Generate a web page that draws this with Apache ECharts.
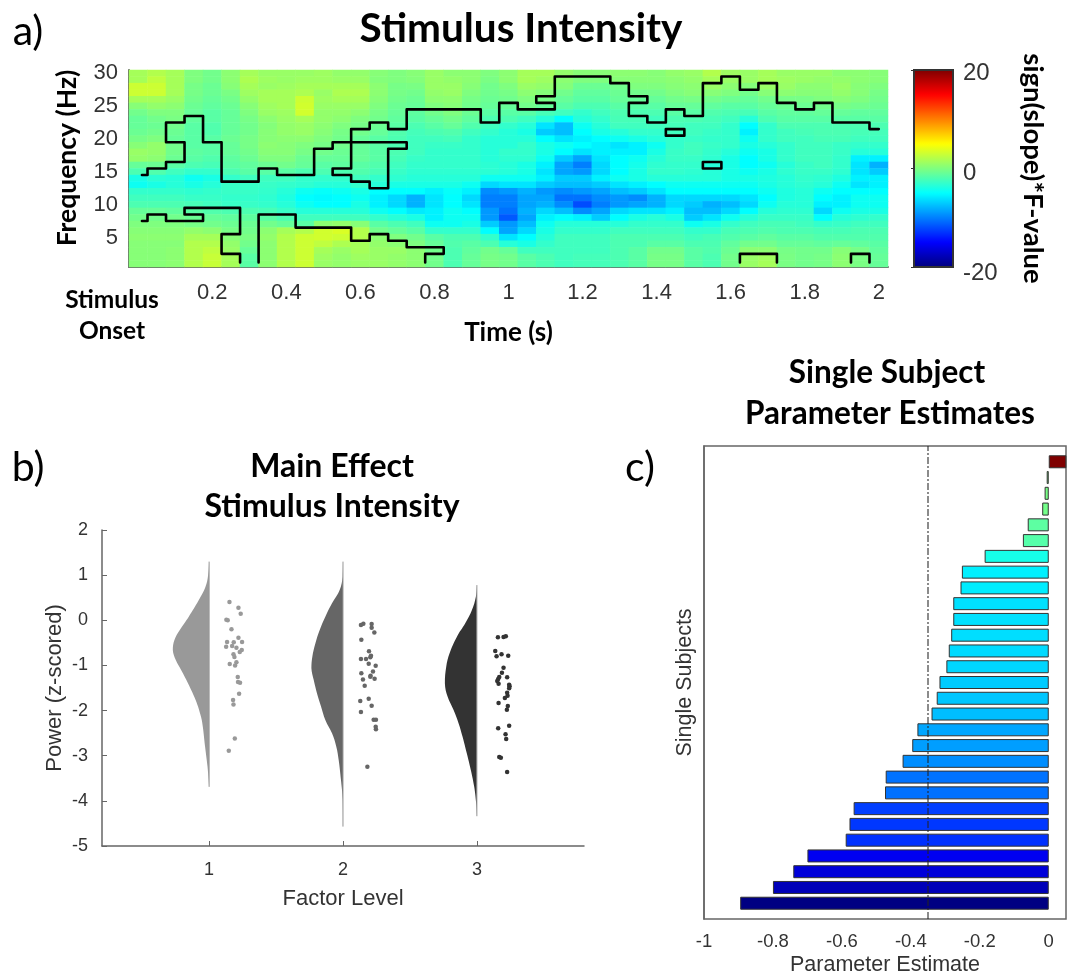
<!DOCTYPE html>
<html lang="en">
<head>
<meta charset="UTF-8">
<title>Stimulus Intensity</title>
<script src="https://cdn.jsdelivr.net/npm/echarts@6/dist/echarts.min.js"></script>
<style>html,body{margin:0;background:#fff}</style>
</head>
<body>
<div id="main" style="width:1070px;height:977px;"></div>
<script>
// panel a: time-frequency map
const timeCats = ['0','0.05','0.1','0.15','0.2','0.25','0.3','0.35','0.4','0.45','0.5','0.55','0.6','0.65','0.7','0.75','0.8','0.85','0.9','0.95','1','1.05','1.1','1.15','1.2','1.25','1.3','1.35','1.4','1.45','1.5','1.55','1.6','1.65','1.7','1.75','1.8','1.85','1.9','1.95','2'];
const freqCats = ['1','2','3','4','5','6','7','8','9','10','11','12','13','14','15','16','17','18','19','20','21','22','23','24','25','26','27','28','29','30'];
// one row per frequency, 30 Hz first
const fValues = [
[1.5,2,1.5,0,-.5,.5,1.5,1,1,1, 1.2,.8,.8,.3,0,.3,1,.5,.5,0, .5,1.5,1.5,.8,.3,.3,.5,.5,.3,.8, 1,2,1.2,1,1.5,1,1,1,.5,.5, .3],
[1.5,2.5,1.5,0,-.5,.5,1.8,1.2,1,1.2, 1.2,1,1,.2,0,.2,1,.8,.5,-.2, .5,1.5,1.2,.5,0,0,.3,.3,.3,.5, .8,1.5,1,1,1.5,1.2,1,.8,.8,.5, .3],
[3,3,1.5,-.3,-.8,.3,1.5,1,1.2,1.5, 1.5,1.5,1.5,.5,-.3,-.2,1,1,.3,-.5, 0,1,.8,.2,-.8,-.8,-.5,0,0,.3, .5,1,.5,.2,1,1,.5,.5,1,.3, 0],
[3,3,1.5,-.3,-.8,-.2,1.2,1.5,1.5,1.8, 1,1.8,1.8,.5,-.3,-.5,.8,1,0,-.6, -.3,.5,.2,-.5,-1.2,-1.2,-.8,-.5,-.5,0, .3,.3,0,-.5,.3,.5,.3,.3,.8,.3, -.3],
[1.5,1.5,1,-.5,-1,-.5,.8,1.5,1.5,3, 1.2,1.5,1.5,.3,-.5,-.8,.5,.6,-.3,-.8, -.6,0,-.3,-1,-1.5,-1.5,-1,-1,-1,-.5, -.3,-.5,-.8,-1,-.5,-.3,-.3,0,.3,0, -.5],
[.3,.8,.5,-.8,-1.2,-.8,.3,1.2,1.5,3.2, 1,1,1,0,-.8,-1,0,.3,-.5,-1, -1,-.5,-1,-1.5,-2,-2,-1.5,-1.5,-1.5,-1, -1,-1.2,-1.5,-1.5,-1,-.8,-.8,-.5,-.3,-.5, -.8],
[-.5,0,0,-1,-1.5,-1,0,1,1.2,3.2, .8,.8,.5,-.3,-1,-1.3,-.5,0,-.8,-1.5, -1.5,-1.5,-2.2,-2.5,-3,-2.5,-2,-2,-2,-1.5, -1.5,-1.8,-2,-2.2,-1.5,-1.2,-1.2,-1,-1,-1.2, -1.2],
[-1,-.5,-.2,-1.2,-1.5,-1,-.3,.5,1,1.5, .8,.5,0,-.5,-1.2,-1.5,-1,-.5,-1.2,-2, -2,-2.5,-3.5,-5,-3.5,-3,-2.2,-2.2,-2.5,-2, -2,-2.2,-2.5,-3.5,-2,-1.5,-1.5,-1.5,-1.5,-1.5, -1.5],
[-1,-.8,-.5,-1.5,-1.8,-1,-.5,.2,.8,1, .5,0,-.3,-.8,-1.5,-2,-1.5,-1,-1.8,-2.5, -3,-3.5,-6,-7.5,-4.5,-3.5,-2.5,-2.5,-2.5,-2.3, -2.5,-2.5,-3,-5,-3,-2,-2,-2,-2,-2, -2],
[-.8,-.5,-.8,-1.5,-1.8,-1,-.5,.3,.8,1, .3,-.3,-.5,-1,-1.8,-2.3,-2,-1.8,-2.5,-3, -3.5,-4,-7,-7.5,-5,-4,-3.5,-3,-3,-2.5, -2.5,-2.8,-3,-5.5,-3,-2.5,-2.2,-2,-2,-2.2, -2.3],
[-.3,0,-1,-1.5,-1.5,-.8,-.3,.3,.5,.5, 0,-.5,-1,-1.5,-2,-2.5,-2.5,-2.3,-3,-3.5, -3.5,-3.5,-5,-6,-5.5,-5,-4.5,-4,-3.5,-3, -2.8,-3,-3,-4.5,-3,-2.5,-2.5,-2.2,-2.2,-2.5, -2.5],
[.3,.8,-.5,-1.5,-1.5,-1,-.3,.5,.3,0, -.3,-.5,-1,-1.5,-2,-2.5,-2.8,-2.8,-3,-3.5, -3.5,-3,-4,-4.5,-5,-5.5,-6,-5.5,-4.5,-3, -2.5,-2.8,-3,-4,-3.5,-3,-2.5,-2.5,-2.8,-3, -3],
[1,.8,-.5,-1.3,-1.5,-1,-.5,.3,.3,-.3, -.5,-.8,-1,-1.5,-2,-2.5,-3,-3,-3,-3.5, -3,-3,-4,-5,-6,-5.5,-5.5,-5.5,-4,-2.8, -2.5,-3,-3.5,-4.5,-4,-3,-2.5,-2.5,-2.8,-3.5, -3.5],
[.8,.5,-.8,-1.5,-1.8,-1.3,-.8,0,0,-.8, -1,-1,-1,-1.5,-2.2,-2.8,-3,-3,-3,-3.5, -3.2,-3.2,-4.5,-7,-8.5,-6,-5,-4.5,-3.5,-2.8, -2.8,-3.2,-4,-5,-4,-3,-2.5,-2.5,-3,-5.5, -5.5],
[-1,-.8,-1.5,-2,-2.2,-1.5,-1.2,-.8,-.5,-1, -1.5,-1.3,-1.5,-1.8,-2.5,-3,-3,-3,-3,-3.3, -3.5,-4,-5.5,-8.5,-10,-6.5,-5,-4.2,-3.2,-3, -3,-3.5,-4,-5,-4.5,-3.5,-2.8,-2.5,-3,-6, -8],
[-2,-1.8,-2.5,-3,-3,-2,-1.5,-1.5,-1.5,-2, -2,-2,-1.8,-2.2,-2.8,-3.2,-3.2,-3.2,-3.2,-3.3, -3.5,-4,-6,-8.5,-9,-6.5,-5,-4,-3,-3, -3.2,-3.5,-4,-4.5,-4,-3.2,-2.8,-2.8,-3.2,-6, -7],
[-4,-3.3,-3.5,-4.5,-4,-3,-2.5,-2.5,-2.5,-3, -3,-3,-2.5,-3,-3.2,-3.5,-3.5,-3.5,-3.5,-4.5, -4.5,-4.5,-5.5,-7,-7,-5.5,-4.5,-4,-3.5,-3.5, -3.5,-3.5,-4,-4,-3.8,-3.5,-3,-3.2,-3.8,-5.5, -5.5],
[-4.5,-4,-3.5,-4,-3.5,-2.8,-2.8,-2.8,-3,-3.2, -3.5,-3.5,-3,-3.5,-4,-4,-4,-4,-4.5,-6.5, -6,-6,-7,-7.5,-7.5,-7,-6,-5.5,-5,-4.5, -4.5,-4.5,-4.5,-4.5,-4,-3.5,-3.2,-3.5,-4.5,-6, -5.5],
[-3,-3,-3,-3.2,-3,-2.8,-2.8,-3,-3.5,-4.5, -4.8,-4.5,-4,-5,-5,-5,-5.5,-4.8,-5.5,-9.5, -9,-8,-9,-9.5,-9,-8.5,-7.5,-7,-6,-5, -5,-5,-5,-5,-4.5,-3.8,-3.5,-4.5,-5,-5, -5],
[-2.5,-2.5,-2.5,-2.8,-2.8,-3,-3,-3.2,-3.8,-5, -5.2,-5,-4.5,-5.5,-6.5,-8,-6,-5,-6.5,-10, -10,-8.5,-8.5,-10.5,-10.5,-9.5,-9,-9.5,-8,-6.5, -6.5,-6.5,-6.5,-6,-5,-3.8,-3.5,-5,-5.5,-4.5, -4.5],
[-2,-2,-2,-2.2,-2.5,-2.8,-2.8,-3,-3.5,-4.5, -5,-5,-4,-5.5,-6.5,-8,-6,-5,-6,-10, -10,-8.5,-8,-9.5,-12,-10,-9,-8.5,-8,-6.5, -7,-8,-7.5,-6.5,-4.5,-3.5,-3.5,-5.5,-5.5,-4.5, -4.5],
[-1,-1,-1.2,-1.5,-1.8,-2,-2,-2.2,-2.8,-3.5, -3.5,-3.5,-3.5,-4.5,-5,-5.8,-5.5,-4.5,-5,-9, -10.5,-8,-6.5,-7.5,-9.5,-8.5,-6.5,-6,-6,-5.5, -7.5,-7.5,-6.5,-5,-3.5,-3.2,-3.2,-6.5,-4.5,-4, -4],
[-.5,-.5,-.5,-.8,-1,-1.2,-1.3,-1.5,-2,-2.5, -2.5,-2.5,-2.5,-3,-3.5,-4,-5.5,-4.5,-4.5,-9, -11.5,-8.5,-5.5,-5,-5.5,-7,-5,-4,-3.5,-4, -7,-6,-4.5,-3.5,-2.8,-2.8,-2.8,-5,-3.5,-3.2, -3],
[0,0,0,-.3,-.5,-.8,-.8,-.5,-1,-1.5, .5,.8,.3,-1.5,-2,-2.5,-4.5,-4.5,-4,-7, -9,-7.5,-4.5,-3.5,-3.5,-3.5,-3.5,-3,-3,-3, -4.5,-4,-3,-2.5,-2.2,-2.2,-2.5,-3,-2.8,-2.5, -2.5],
[.3,.3,.3,.8,.5,-.3,-.5,.5,1.5,2, 3.2,3.5,2,-.5,-1,-1.5,-3,-3,-3,-5, -8.5,-6.5,-4,-3,-3,-3,-2.5,-2.5,-2.5,-2.5, -3,-3,-2.2,-2,-1.8,-2,-2,-2.2,-2.2,-2, -2],
[.5,.5,.5,1.5,1.5,.3,-.2,.8,2,3, 3.2,3,2,.5,0,-.5,-1.5,-2,-2,-3, -6,-5,-3.5,-2.5,-2.5,-2.5,-2,-2,-2,-2, -2.5,-2.2,-1.8,-1.5,-1.2,-1.5,-1.5,-1.8,-1.8,-1.8, -1.8],
[.3,.3,.3,2,2,.8,-.5,.5,2,3, 2.5,1.8,1.5,.8,.5,0,-1,-1.8,-1.5,-2, -3.5,-4,-3,-2.5,-2.5,-2.5,-2,-2,-1.5,-1.5, -2,-2,-1.2,-.5,-.5,-1,-1,-1.2,-1,-1.2, -1.5],
[.3,.3,.5,2,2.5,1,-1,.5,2,3, 1.5,1,1.5,1,1,.5,-.5,-2,-1.2,-.5, -1,-2.5,-2.5,-2.5,-2.5,-2.5,-2,-1.5,-.5,-.5, -1.5,-1.8,-.8,.5,.5,-.3,-.5,-.5,.3,-.3, -1.2],
[.3,.3,.5,2,2.8,1.5,-1.5,.5,2,3, 1.2,.8,1.2,1,.8,.5,-.5,-2,-1,-.3, -.5,-1.5,-2,-2.5,-2.3,-2.3,-2,-1.5,-.3,-.3, -1.5,-2,-.5,1,1.3,-.2,-.5,-.3,.5,-.2, -1],
[.3,.3,.5,2,2.8,1.5,-1.5,.5,2,3, 1,.8,1,1,.8,.5,-.5,-2,-1,-.3, -.5,-1.5,-2,-2.5,-2.3,-2.3,-2,-1.5,-.3,-.3, -1.5,-2,-.5,1,1.5,-.2,-.5,-.3,.5,-.2, -1]
];
// significance outlines, vertices in cell edges [column edge, row edge]
const contours = [
[[.7,14],[1,14],[1,15],[2,15],[2,16],[3,16],[3,19],[2,19],[2,22],[3,22],[3,23],[4,23],[4,19],[5,19],[5,13],[7,13],[7,15],[8,15],[8,14],[10,14],[10,18],[11,18],[11,19],[15,19],[15,18],[14,18],[14,12],[13,12],[13,13],[12,13],[12,14],[11,14],[11,15],[12,15],[12,21],[13,21],[13,22],[14,22],[14,21],[15,21],[15,24],[19,24],[19,22],[20,22],[20,25],[21,25],[21,24],[23,24],[23,25],[22,25],[22,26],[23,26],[23,29],[26,29],[26,28],[27,28],[27,26],[28,26],[28,25],[27,25],[27,23],[28,23],[28,22],[29,22],[29,24],[30,24],[30,23],[31,23],[31,28],[32,28],[32,29],[33,29],[33,27],[34,27],[34,28],[35,28],[35,25],[36,25],[36,24],[37,24],[37,25],[38,25],[38,22],[40,22],[40,21],[40.5,21]],
[[.7,7],[1,7],[1,8],[2,8],[2,7],[4,7],[4,8],[3,8],[3,9],[6,9],[6,5],[5,5],[5,2],[6,2],[6,.7]],
[[7,.7],[7,8],[9,8],[9,6],[12,6],[12,4],[13,4],[13,5],[14,5],[14,4],[15,4],[15,3],[17,3],[17,2],[16,2],[16,.7]],
[[29,21],[30,21],[30,20],[29,20],[29,21]],
[[31,16],[32,16],[32,15],[31,15],[31,16]],
[[33,.7],[33,2],[35,2],[35,.7]],
[[39,.7],[39,2],[40,2],[40,.7]]
];

// panel b: half violins, [value, half width] along the outline
const factorLevels = [1, 2, 3];
const violin1 = [[1.3,0],[1,.0075],[.744,.027],[.449,.077],[.08,.152],[-.216,.219],[-.437,.259],[-.659,.271],[-.88,.249],[-1.1,.209],[-1.4,.157],[-1.77,.1],[-2.14,.06],[-2.36,.047],[-2.8,.03],[-3.24,.012],[-3.69,0]];
const violin2 = [[1.3,0],[.966,.0025],[.67,.025],[.375,.082],[.08,.132],[-.216,.174],[-.51,.206],[-.81,.229],[-1.065,.236],[-1.32,.219],[-1.62,.194],[-1.91,.164],[-2.21,.132],[-2.505,.082],[-2.8,.05],[-3.1,.032],[-3.54,.015],[-3.97,.0025],[-4.57,0]];
const violin3 = [[.78,0],[.52,.0075],[.227,.037],[-.068,.087],[-.363,.149],[-.73,.204],[-1.03,.229],[-1.4,.239],[-1.69,.219],[-1.99,.174],[-2.28,.137],[-2.58,.107],[-2.95,.075],[-3.32,.045],[-3.69,.02],[-4.06,.005],[-4.34,0]];
const dots1 = [[1.152,.405],[1.219,.279],[1.236,.146],[1.129,.013],[1.139,-.001],[1.167,-.201],[1.219,-.386],[1.134,-.482],[1.184,-.489],[1.246,-.482],[1.127,-.585],[1.172,-.57],[1.204,-.607],[1.244,-.659],[1.229,-.703],[1.182,-.755],[1.189,-.814],[1.204,-.932],[1.194,-.999],[1.154,-.969],[1.214,-1.257],[1.216,-1.368],[1.231,-1.383],[1.224,-1.626],[1.179,-1.767],[1.182,-1.863],[1.192,-2.616],[1.147,-2.889]];
const dots2 = [[2.134,-.105],[2.152,-.075],[2.214,-.083],[2.214,-.164],[2.234,-.268],[2.137,-.43],[2.194,-.688],[2.134,-.858],[2.172,-.858],[2.204,-.821],[2.209,-.784],[2.192,-.962],[2.244,-1.006],[2.137,-1.176],[2.149,-1.309],[2.206,-1.227],[2.204,-1.25],[2.224,-1.132],[2.236,-1.294],[2.162,-1.449],[2.192,-1.737],[2.129,-1.789],[2.214,-1.892],[2.134,-2.033],[2.229,-2.202],[2.246,-2.202],[2.244,-2.357],[2.246,-2.416],[2.182,-3.244]];
const dots3 = [[3.157,-.378],[3.199,-.371],[3.216,-.356],[3.137,-.681],[3.147,-.799],[3.184,-.755],[3.234,-.784],[3.199,-1.05],[3.187,-1.161],[3.226,-1.264],[3.167,-1.257],[3.159,-1.301],[3.152,-1.346],[3.162,-1.405],[3.241,-1.427],[3.244,-1.464],[3.241,-1.508],[3.226,-1.604],[3.229,-1.671],[3.209,-1.722],[3.162,-1.833],[3.231,-1.9],[3.224,-1.981],[3.241,-2.335],[3.159,-2.394],[3.214,-2.527],[3.219,-2.631],[3.167,-3.03],[3.179,-3.044],[3.226,-3.362]];

// panel c: subject estimates, bottom bar first
const subjectEstimates = [-.895,-.8,-.741,-.7,-.589,-.578,-.566,-.475,-.473,-.424,-.396,-.381,-.34,-.325,-.317,-.297,-.29,-.283,-.277,-.277,-.256,-.252,-.186,-.075,-.061,-.019,-.012,-.006,.051];
const subjectCats = ['0','1','2','3','4','5','6','7','8','9','10','11','12','13','14','15','16','17','18','19','20','21','22','23','24','25','26','27','28','29','30'];
const estimateTicks = [-1,-.8,-.6,-.4,-.2,0];
const criticalEstimate = -.353;

const jet = ['#00007f','#0000ff','#007fff','#00ffff','#7fff7f','#ffff00','#ff7f00','#ff0000','#7f0000'];
const sans = '"Liberation Sans", Arial, sans-serif';
const heavy = 'Lato, Carlito, Calibri, sans-serif';
const axisGrey = '#666';
const textGrey = '#333';

let heatData = [];
fValues.forEach((row, r) => row.forEach((v, c) => heatData.push([c, 29 - r, v])));

let myChart = echarts.init(document.getElementById('main'));

function label(text, x, y, size, bold, extra) {
    return Object.assign({
        type: 'text', x: x, y: y, silent: true,
        style: {
            text: text, fill: '#000', textAlign: 'center', textVerticalAlign: 'middle',
            font: (bold ? 'bold ' : '') + size + 'px ' + heavy
        }
    }, extra || {});
}

function violinItem(params, api) {
    let level = api.value(0);
    let outline = [violin1, violin2, violin3][level - 1];
    let points = outline.map(p => api.coord([level - p[1], p[0]]));
    let xs = points.map(p => p[0]);
    let ys = points.map(p => p[1]);
    // keeps the smoothed outline from bulging past the centre line
    let box = [[Math.min(...xs), Math.min(...ys)], [Math.max(...xs), Math.max(...ys)]];
    return {
        type: 'group',
        children: [
            {
                type: 'polygon',
                shape: { points: points, smooth: .4, smoothConstraint: box },
                style: { fill: ['#999', '#666', '#333'][level - 1] }
            },
            {
                type: 'line',
                shape: {
                    x1: points[0][0], y1: points[0][1],
                    x2: points[points.length - 1][0], y2: points[points.length - 1][1]
                },
                style: { stroke: '#999', lineWidth: 1 }
            }
        ]
    };
}

let option = {
    backgroundColor: '#fff',
    animation: false,
    textStyle: { fontFamily: sans },
    grid: [
        { left: 129, top: 70, width: 759, height: 197 },
        { left: 129, top: 70, width: 759, height: 197 },
        { left: 914, top: 70, width: 39, height: 197, show: true, borderColor: '#333', borderWidth: 2, backgroundColor: 'transparent', z: 5 },
        { left: 102, top: 530, width: 482, height: 316 },
        { left: 704, top: 446, width: 362, height: 474, show: true, borderColor: axisGrey, borderWidth: 1.5 },
        { left: 914, top: 73, width: 39, height: 200 }
    ],
    visualMap: [{
        type: 'continuous', seriesIndex: 0, min: -20, max: 20, calculable: false,
        left: 914, top: 70, itemWidth: 39, itemHeight: 197, text: ['', ''], padding: 0, itemGap: 0,
        inRange: { color: jet }
    }],
    xAxis: [
        {
            gridIndex: 0, type: 'category', data: timeCats,
            name: 'Time (s)', nameLocation: 'middle', nameGap: 53,
            nameTextStyle: { fontFamily: heavy, fontWeight: 'bold', fontSize: 26, color: '#000' },
            axisLine: { lineStyle: { color: axisGrey, width: 2 } },
            axisTick: { show: false },
            axisLabel: { interval: (i) => i > 0 && i % 4 === 0, fontFamily: sans, fontSize: 22, margin: 15, color: textGrey }
        },
        { gridIndex: 1, type: 'value', min: 0, max: 41, show: false },
        { gridIndex: 2, type: 'value', min: 0, max: 1, show: false },
        {
            gridIndex: 3, type: 'value', min: .2, max: 3.8,
            name: 'Factor Level', nameLocation: 'middle', nameGap: 42,
            nameTextStyle: { fontFamily: sans, fontSize: 22, color: textGrey },
            splitLine: { show: false },
            axisLine: { onZero: false, lineStyle: { color: axisGrey, width: 1.5 } },
            axisTick: { inside: true, length: 5, lineStyle: { color: axisGrey }, customValues: factorLevels },
            axisLabel: { fontFamily: sans, fontSize: 18, margin: 15, color: textGrey, customValues: factorLevels }
        },
        {
            gridIndex: 4, type: 'value', min: -1, max: .05,
            name: 'Parameter Estimate', nameLocation: 'middle', nameGap: 35,
            nameTextStyle: { fontFamily: sans, fontSize: 21.5, color: textGrey },
            splitLine: { show: false },
            axisLine: { onZero: false, lineStyle: { color: axisGrey, width: 1.5 } },
            axisTick: { inside: true, length: 5, lineStyle: { color: axisGrey }, customValues: estimateTicks },
            axisLabel: { fontFamily: sans, fontSize: 18.5, margin: 13, color: textGrey, customValues: estimateTicks }
        },
        {
            gridIndex: 4, type: 'value', min: -1, max: .05, position: 'top',
            splitLine: { show: false },
            axisLine: { show: false },
            axisTick: { inside: true, length: 5, lineStyle: { color: axisGrey }, customValues: estimateTicks },
            axisLabel: { show: false }
        },
        { gridIndex: 5, type: 'value', min: 0, max: 1, show: false }
    ],
    yAxis: [
        {
            gridIndex: 0, type: 'category', data: freqCats,
            axisLine: { lineStyle: { color: axisGrey, width: 2 } },
            axisTick: { show: false },
            axisLabel: { interval: (i) => (i + 1) % 5 === 0, fontFamily: sans, fontSize: 22, margin: 11, color: textGrey, padding: [3, 0, 0, 0] }
        },
        { gridIndex: 1, type: 'value', min: 0, max: 30, show: false },
        {
            gridIndex: 2, type: 'value', min: -20, max: 20, interval: 20, position: 'right',
            name: 'sign(slope)*F-value', nameLocation: 'middle', nameGap: 66, nameRotate: -90,
            nameTextStyle: { fontFamily: heavy, fontWeight: 'bold', fontSize: 27.5, color: '#000' },
            splitLine: { show: false },
            axisLine: { show: false },
            axisTick: { inside: true, length: 3, lineStyle: { color: '#333' } },
            axisLabel: { show: false }
        },
        {
            gridIndex: 3, type: 'value', min: -5, max: 2, interval: 1,
            name: 'Power (z-scored)', nameLocation: 'middle', nameGap: 36,
            nameTextStyle: { fontFamily: sans, fontSize: 22, color: textGrey },
            splitLine: { show: false },
            axisLine: { onZero: false, lineStyle: { color: axisGrey, width: 1.5 } },
            axisTick: { inside: true, length: 5, lineStyle: { color: axisGrey } },
            axisLabel: { fontFamily: sans, fontSize: 18, margin: 14, color: textGrey }
        },
        {
            gridIndex: 4, type: 'category', data: subjectCats, boundaryGap: false,
            name: 'Single Subjects', nameLocation: 'middle', nameGap: 8,
            nameTextStyle: { fontFamily: sans, fontSize: 21.5, color: textGrey },
            axisLine: { onZero: false, lineStyle: { color: axisGrey, width: 1.5 } },
            axisTick: { show: false },
            axisLabel: { show: false }
        },
        {
            gridIndex: 5, type: 'value', min: -20, max: 20, interval: 20, position: 'right',
            splitLine: { show: false },
            axisLine: { show: false },
            axisTick: { show: false },
            axisLabel: { fontFamily: sans, fontSize: 24, margin: 10, color: textGrey }
        }
    ],
    series: [
        {
            name: 'F', type: 'heatmap', xAxisIndex: 0, yAxisIndex: 0, data: heatData,
            progressive: 0, itemStyle: { borderWidth: 0 }
        }
    ].concat(contours.map(path => ({
        type: 'line', xAxisIndex: 1, yAxisIndex: 1, data: path, showSymbol: false, clip: false, z: 6,
        lineStyle: { color: '#000', width: 2.6, join: 'round', cap: 'round' }
    }))).concat([
        { type: 'line', xAxisIndex: 2, yAxisIndex: 2, data: [] },
        { type: 'line', xAxisIndex: 6, yAxisIndex: 5, data: [] },
        {
            type: 'custom', xAxisIndex: 3, yAxisIndex: 3, data: factorLevels.map(l => [l]),
            encode: { x: 0 }, renderItem: violinItem, clip: false
        },
        { type: 'scatter', xAxisIndex: 3, yAxisIndex: 3, data: dots1, symbolSize: 4.5, itemStyle: { color: '#999', opacity: 1 } },
        { type: 'scatter', xAxisIndex: 3, yAxisIndex: 3, data: dots2, symbolSize: 4.5, itemStyle: { color: '#666', opacity: 1 } },
        { type: 'scatter', xAxisIndex: 3, yAxisIndex: 3, data: dots3, symbolSize: 4.5, itemStyle: { color: '#333', opacity: 1 } },
        {
            type: 'bar', xAxisIndex: 4, yAxisIndex: 4,
            data: [null].concat(subjectEstimates, [null]),
            barWidth: 13,
            itemStyle: {
                borderColor: '#333', borderWidth: 1,
                color: (p) => p.value > 0 ? '#7f0000' : echarts.color.lerp((p.value + .9) / 1.8, jet)
            },
            markLine: {
                silent: true, symbol: 'none', animation: false,
                label: { show: false },
                lineStyle: { color: '#222', opacity: .7, width: 1.5, type: [7, 2, 2, 2] },
                data: [{ xAxis: criticalEstimate }]
            }
        }
    ]),
    graphic: [
        label('Stimulus Intensity', 521, 29, 40.5, true),
        label('a)', 28, 32, 41, false),
        label('b)', 28, 468, 41, false),
        label('c)', 640, 468, 41, false),
        label('Frequency (Hz)', 67, 158, 26.5, true, { rotation: Math.PI / 2 }),
        label('Stimulus', 112, 300, 24.5, true),
        label('Onset', 112, 331, 24.5, true),
        label('Main Effect', 332, 467, 32, true),
        label('Stimulus Intensity', 332, 507, 32, true),
        label('Single Subject', 887, 373, 31.5, true),
        label('Parameter Estimates', 890, 414, 31.5, true)
    ]
};
myChart.setOption(option);
</script>
</body>
</html>
